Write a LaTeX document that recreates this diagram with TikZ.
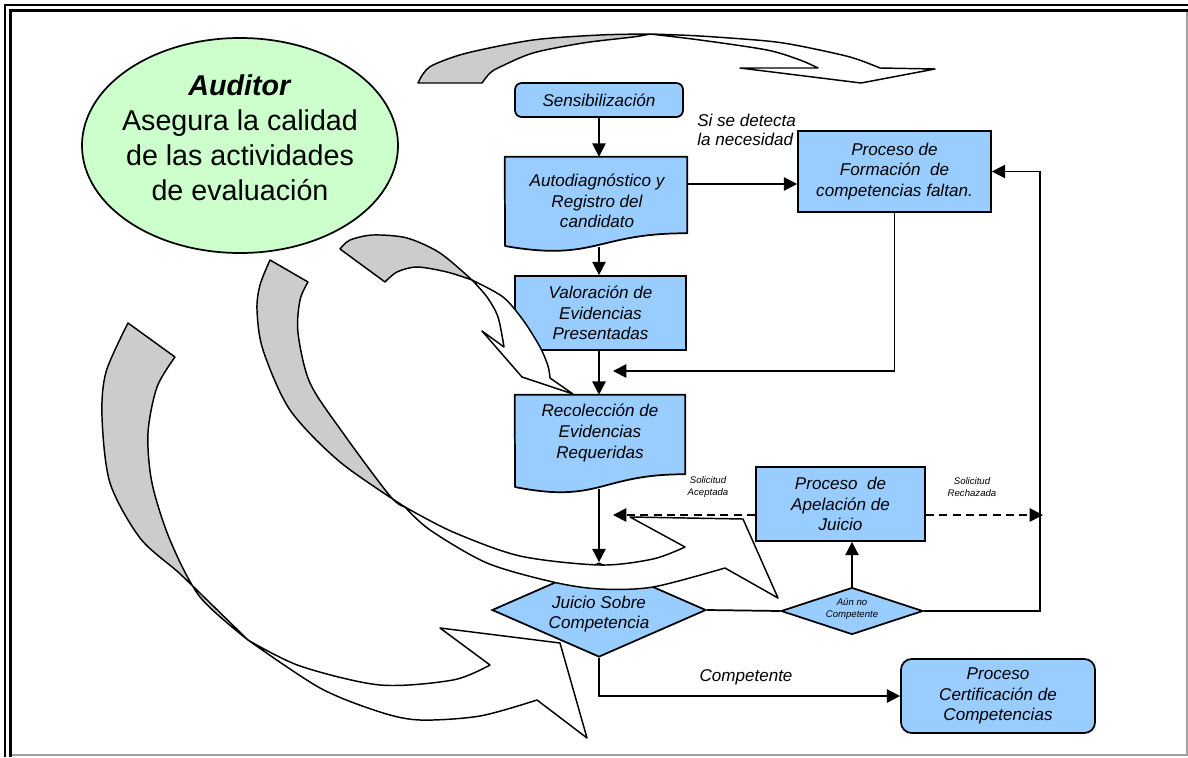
\documentclass[tikz,border=0pt]{standalone}
\usepackage{fontspec}
\setmainfont{Liberation Sans}
\usetikzlibrary{arrows.meta,shapes.geometric}
\definecolor{boxblue}{HTML}{99CCFF}
\definecolor{auditgreen}{HTML}{CCFFCC}
\definecolor{bandgray}{HTML}{CCCCCC}
\definecolor{framegray}{HTML}{A0A0A0}

\tikzset{
  flowbox/.style={draw=black, line width=1.3pt, fill=boxblue, inner sep=0pt},
  roundbox/.style={flowbox, rounded corners=5pt},
  decision/.style={diamond, draw=black, line width=1.3pt, fill=boxblue, inner sep=0pt},
  docshape/.style={draw=black, line width=1.3pt, fill=boxblue, line join=round},
  boxtext/.style={align=center, font=\fontsize{12.8}{15.5}\selectfont\itshape, inner sep=0pt},
  tinytext/.style={align=center, font=\fontsize{7.2}{9}\selectfont\itshape, inner sep=0pt},
  flow/.style={line width=1.3pt, -{Triangle[length=10pt,width=10pt]}},
  plain/.style={line width=1.3pt},
  appeal/.style={line width=1.3pt, dash pattern=on 6pt off 4pt, -{Triangle[length=10pt,width=10pt]}},
  backband/.style={draw=black, line width=1.1pt, fill=bandgray, line join=round},
  frontband/.style={draw=black, line width=1.1pt, fill=white, line join=round},
}

\begin{document}
\begin{tikzpicture}[x=0.75pt,y=-0.75pt]
\useasboundingbox (0,0) rectangle (1188,757);

% page frame
\draw[line width=1.1pt] (5,757) -- (5,5) -- (1188,5);
\draw[line width=2.4pt] (10.5,757) -- (10.5,10.5) -- (1188,10.5);
\draw[framegray, line width=0.9pt] (12,755) -- (1187,755) -- (1187,12);

% auditor
\node[ellipse, minimum width=237pt, minimum height=161.25pt, draw=black, line width=1.3pt, fill=auditgreen, inner sep=0pt] (auditor) at (240,145.5) {};
\node[align=center, font=\fontsize{21.5}{26.3}\selectfont, inner sep=0pt] (auditortext) at (240,138)
  {\textbf{\textit{Auditor}}\\Asegura la calidad\\de las actividades\\de evaluación};

% process steps
\node[roundbox, boxtext, minimum width=126pt, minimum height=25.5pt] (sens) at (599,100) {Sensibilización};

\node[minimum width=136.5pt, minimum height=57pt, inner sep=0pt] (auto) at (596,195) {};
\draw[docshape] (auto.north west) -- (auto.north east) -- (auto.south east)
  .. controls (596,233) and (596,262) .. (505,246) -- cycle;
\node[boxtext] (autotext) at (597,201) {Autodiagnóstico y\\Registro del\\candidato};
\coordinate (autodip) at (599,247);

\node[flowbox, boxtext, minimum width=128.25pt, minimum height=55.5pt] (val) at (600.5,313) {Valoración de\\Evidencias\\Presentadas};

\node[minimum width=127.5pt, minimum height=59.25pt, inner sep=0pt] (rec) at (600,434.5) {};
\draw[docshape] (rec.north west) -- (rec.north east) -- (rec.south east)
  .. controls (600,474) and (600,504) .. (515,487) -- cycle;
\node[boxtext] (rectext) at (600,433) {Recolección de\\Evidencias\\Requeridas};
\coordinate (recdip) at (599,489);

\node[flowbox, boxtext, minimum width=144.75pt, minimum height=60.75pt] (form) at (894.5,171.5) {Proceso de\\Formación~~de\\competencias faltan.};

\node[flowbox, boxtext, minimum width=126.75pt, minimum height=55.5pt] (apel) at (840.5,504) {Proceso~~de\\Apelación de\\Juicio};

\node[decision, minimum width=160.5pt, minimum height=70.5pt] (juicio) at (599,610) {};
\node[decision, minimum width=106.5pt, minimum height=35.25pt] (aun) at (852,611) {};

\node[roundbox, rounded corners=8pt, boxtext, minimum width=145.5pt, minimum height=55.5pt] (cert) at (998,696) {Proceso\\Certificación de\\Competencias};

% curved arrows around the evaluation cycle
% top arrow
\draw[backband] (418,83) -- plot[smooth] coordinates {(482,83) (490,73) (500,67) (533,53) (583,43) (633,37) (650,34)}
  -- plot[smooth] coordinates {(650,34) (600,35) (533,40) (467,53) (433,65) (423,74) (418,83)} -- cycle;
\draw[frontband] (650,34) -- plot[smooth] coordinates {(650,34) (700,36) (767,41) (800,46) (850,57) (880,68)}
  -- (935,69) -- (861,83) -- (740,68) -- (818,68)
  -- plot[smooth] coordinates {(818,68) (800,60) (767,50) (700,40) (650,34)} -- cycle;

% small arrow towards the evidence steps
\draw[backband] (340,249) -- plot[smooth] coordinates {(385,282) (397,272) (417,267) (447,272) (472,280)}
  -- plot[smooth] coordinates {(472,280) (440,253) (407,238) (373,235) (350,240) (340,249)} -- cycle;
\draw[frontband] (472,280) -- plot[smooth] coordinates {(472,280) (487,297) (498,317) (504,347)}
  -- (482,331) -- (522,377) -- (573,394) -- (550,378)
  -- plot[smooth] coordinates {(550,378) (548,366) (540,347) (523,320) (503,297) (472,280)} -- cycle;

% middle arrow
\draw[backband] (270,260) -- plot[smooth] coordinates {(308,282) (300,300) (298,333) (310,383) (343,433) (390,496) (405,507)}
  -- plot[smooth] coordinates {(405,507) (340,462) (290,410) (263,350) (257,310) (260,285) (270,260)} -- cycle;
\draw[frontband] (405,507) -- plot[smooth] coordinates {(405,507) (453,532) (520,556) (600,565) (653,559) (685,547)}
  -- (630,517) -- (743,519) -- (778,598) -- (725,568)
  -- plot[smooth] coordinates {(725,568) (653,587) (600,589) (553,582) (487,563) (430,530) (405,507)} -- cycle;

% outer arrow
\draw[backband] (128,323) -- plot[smooth] coordinates {(175,357) (157,387) (148,433) (152,483) (170,540) (200,597) (248,640)}
  -- plot[smooth] coordinates {(248,640) (205,598) (178,572) (140,538) (110,483) (102,417) (106,372) (128,323)} -- cycle;
\draw[frontband] (248,640) -- plot[smooth] coordinates {(248,640) (300,666) (380,685) (453,680) (490,665)}
  -- (440,628) -- (560,643) -- (587,738) -- (537,700)
  -- plot[smooth] coordinates {(537,700) (480,716) (420,720) (380,712) (320,688) (248,640)} -- cycle;

% texts of the decisions
\node[boxtext] (juiciotext) at (599,614) {Juicio Sobre\\Competencia};
\node[tinytext] (auntext) at (852,609) {Aún no\\Competente};

% connectors
\coordinate (formrow) at (0,184);
\coordinate (dashrow) at (0,515);
\coordinate (valin) at (613,371);
\coordinate (acceptin) at (613,515);
\coordinate (rejectin) at (1043,515);
\coordinate (rail) at (1040,611);

\draw[flow] (sens.south) -- (sens.south |- auto.north);
\draw[flow] (autodip) -- (autodip |- val.north);
\draw[flow] (val.south -| autodip) -- (autodip |- rec.north);
\draw[flow] (recdip) -- (recdip |- juicio.north);
\draw[flow] (auto.east |- formrow) -- (form.west |- formrow);
\draw[flow] (form.south) |- (valin);
\draw[plain] (juicio.east) -- (aun.west);
\draw[flow] (aun.north) -- (aun.north |- apel.south);
\draw[flow] (aun.east) -- (rail) |- (form.east);
\draw[appeal] (apel.west |- dashrow) -- (acceptin);
\draw[appeal] (apel.east |- dashrow) -- (rejectin);
\draw[flow] (juicio.south) |- (cert.west);

% labels
\node[anchor=west, align=left, font=\fontsize{12.8}{14.5}\selectfont\itshape, inner sep=0pt] (detect) at (697,130) {Si se detecta\\la necesidad};
\node[tinytext] (accepted) at (708,487) {Solicitud\\Aceptada};
\node[tinytext] (rejected) at (972,487) {Solicitud\\Rechazada};
\node[boxtext] (competent) at (746,677) {Competente};
\end{tikzpicture}
\end{document}
